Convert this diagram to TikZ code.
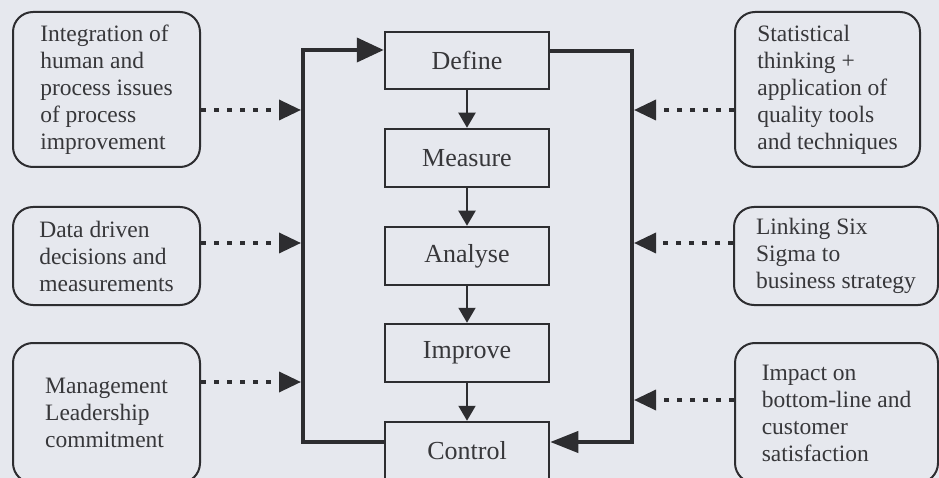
\documentclass[tikz,border=0pt]{standalone}
\usepackage{fontspec}
\setmainfont{Liberation Serif}
\usetikzlibrary{arrows.meta}
\definecolor{bg}{RGB}{230,232,238}
\definecolor{ink}{RGB}{45,45,48}
\definecolor{txt}{RGB}{55,55,58}

\begin{document}
\begin{tikzpicture}[x=1pt,y=-1pt,
  stage/.style={draw=ink, line width=2.5pt, minimum width=164pt, minimum height=57pt,
    inner sep=0pt, font=\fontsize{26}{30}\selectfont, text=txt},
  factor/.style={draw=ink, line width=2pt, rounded corners=20pt, align=left,
    inner sep=0pt, font=\fontsize{23.5}{27}\selectfont, text=txt},
  bus/.style={draw=ink, line width=4pt},
  flow/.style={draw=ink, line width=2pt, -{Triangle[length=15pt,width=17pt]}},
  feed/.style={draw=ink, line width=3.5pt, dash pattern=on 5pt off 8pt,
    -{Triangle[length=22pt,width=20pt]}}
]
% canvas
\fill[bg] (0,0) rectangle (939,478);
\useasboundingbox (0,0) rectangle (939,478);

% DMAIC stages
\node[stage] (define) at (467,60.5) {Define};
\node[stage, minimum height=58pt] (measure) at (467,158) {Measure};
\node[stage, minimum height=58pt] (analyse) at (467,256) {Analyse};
\node[stage, minimum height=58pt] (improve) at (467,353) {Improve};
\node[stage, minimum height=58pt] (control) at (467,451) {Control};

\draw[flow] (define.south) -- (measure.north);
\draw[flow] (measure.south) -- (analyse.north);
\draw[flow] (analyse.south) -- (improve.north);
\draw[flow] (improve.south) -- (control.north);

% feedback loops
\coordinate (lt) at (303,50);
\coordinate (lb) at (303,442);
\coordinate (rt) at (632,51);
\coordinate (rb) at (632,442);
\draw[bus, -{Triangle[length=27pt,width=24pt]}]
  (control.west |- lb) -- (lb) -- (lt) -- (define.west |- lt);
\draw[bus, -{Triangle[length=28pt,width=21pt]}]
  (define.east |- rt) -- (rt) -- (rb) -- (control.east |- rb);

% success factors
\node[factor, minimum width=187pt, minimum height=155pt] (l1) at (106.5,89.5)
  {Integration of\\human and\\process issues\\of process\\improvement};
\node[factor, minimum width=187pt, minimum height=98pt] (l2) at (106.5,256)
  {Data driven\\decisions and\\measurements};
\node[factor, minimum width=187pt, minimum height=140pt] (l3) at (106.5,413)
  {Management\\Leadership\\commitment};
\node[factor, minimum width=185pt, minimum height=155pt] (r1) at (827.5,89.5)
  {Statistical\\thinking +\\application of\\quality tools\\and techniques};
\node[factor, minimum width=204pt, minimum height=98pt] (r2) at (836,256)
  {Linking Six\\Sigma to\\business strategy};
\node[factor, minimum width=203pt, minimum height=140pt] (r3) at (836.5,413)
  {Impact on\\bottom-line and\\customer\\satisfaction};

\coordinate (fl1) at (301,110);
\coordinate (fl2) at (301,243);
\coordinate (fl3) at (301,382);
\coordinate (fr1) at (634,110);
\coordinate (fr2) at (634,243);
\coordinate (fr3) at (634,400);
\draw[feed] (l1.east |- fl1) -- (fl1);
\draw[feed] (l2.east |- fl2) -- (fl2);
\draw[feed] (l3.east |- fl3) -- (fl3);
\draw[feed] (r1.west |- fr1) -- (fr1);
\draw[feed] (r2.west |- fr2) -- (fr2);
\draw[feed] (r3.west |- fr3) -- (fr3);
\end{tikzpicture}
\end{document}
